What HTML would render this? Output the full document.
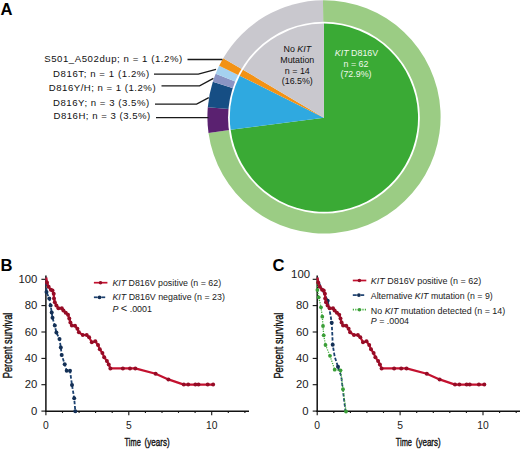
<!DOCTYPE html>
<html><head><meta charset="utf-8"><style>
html,body{margin:0;padding:0;background:#fff;}
svg{display:block;}
text{font-family:"Liberation Sans",sans-serif;}
.lbl{font-size:9.6px;fill:#111;}
.pl{font-size:8.9px;}
.tick{font-size:10.3px;fill:#1a1a1a;}
.leg{font-size:8.9px;fill:#1a1a1a;}
.panel{font-size:16.6px;font-weight:bold;fill:#000;}
.ax{font-size:11.6px;fill:#111;stroke:#111;stroke-width:0.4px;}
</style></head><body>
<svg width="520" height="450" viewBox="0 0 520 450">
<rect width="520" height="450" fill="#fff"/>
<text x="0.4" y="15.0" class="panel">A</text>
<path d="M324.0,116.9 L322.98,0.30 A116.6,116.6 0 1 1 208.51,132.95 Z" fill="#9bcc84"/><path d="M324.0,116.9 L208.51,132.95 A116.6,116.6 0 0 1 207.81,107.16 Z" fill="#5a2170"/><path d="M324.0,116.9 L207.81,107.16 A116.6,116.6 0 0 1 212.80,81.84 Z" fill="#164e84"/><path d="M324.0,116.9 L212.80,81.84 A116.6,116.6 0 0 1 215.69,73.72 Z" fill="#8a94c4"/><path d="M324.0,116.9 L215.69,73.72 A116.6,116.6 0 0 1 219.17,65.84 Z" fill="#a5d2f0"/><path d="M324.0,116.9 L219.17,65.84 A116.6,116.6 0 0 1 223.23,58.24 Z" fill="#f39214"/><path d="M324.0,116.9 L223.23,58.24 A116.6,116.6 0 0 1 322.98,0.30 Z" fill="#c9c8ce"/><circle cx="323.95" cy="117.7" r="95.9" fill="#fff"/><path d="M323.95,117.7 L323.95,23.60 A94.1,94.1 0 1 1 230.64,129.84 Z" fill="#3aaa35"/><path d="M323.95,117.7 L230.64,129.84 A94.1,94.1 0 0 1 239.72,75.76 Z" fill="#2fa9e0"/><path d="M323.95,117.7 L239.72,75.76 A94.1,94.1 0 0 1 243.04,69.65 Z" fill="#f39214"/><path d="M323.95,117.7 L243.04,69.65 A94.1,94.1 0 0 1 323.95,23.60 Z" fill="#c9c8ce"/>
<g fill="#e9f5e4" class="pl" text-anchor="middle">
<text x="356.5" y="56.2" class="pl" fill="#f0f8ec"><tspan font-style="italic">KIT</tspan> D816V</text>
<text x="356" y="66.7" class="pl" fill="#f0f8ec">n = 62</text>
<text x="356" y="77.3" class="pl" fill="#f0f8ec">(72.9%)</text>
</g>
<g text-anchor="middle">
<text x="297.3" y="52.1" class="pl" fill="#111">No <tspan font-style="italic">KIT</tspan></text>
<text x="297.3" y="63.0" class="pl" fill="#111">Mutation</text>
<text x="297.3" y="73.5" class="pl" fill="#111">n = 14</text>
<text x="297.3" y="84.1" class="pl" fill="#111">(16.5%)</text>
</g>
<text x="44.2" y="62" class="lbl" textLength="138" lengthAdjust="spacing">S501_A502dup; n = 1 (1.2%)</text>
<text x="53.1" y="76.6" class="lbl" textLength="96" lengthAdjust="spacing">D816T; n = 1 (1.2%)</text>
<text x="48.8" y="90.8" class="lbl" textLength="106.8" lengthAdjust="spacing">D816Y/H; n = 1 (1.2%)</text>
<text x="53" y="106.3" class="lbl" textLength="96.2" lengthAdjust="spacing">D816Y; n = 3 (3.5%)</text>
<text x="53.5" y="119.3" class="lbl" textLength="96.7" lengthAdjust="spacing">D816H; n = 3 (3.5%)</text>
<g stroke="#1a1a1a" stroke-width="1.3" fill="none">
<polyline points="187.5,59.5 222.5,59.5"/>
<polyline points="154,74.2 198.3,74.2 216,69.4"/>
<polyline points="161.5,85.9 199.6,85.9 213.4,78.4"/>
<polyline points="155,104.1 196.6,104.1 208.8,97.6"/>
<polyline points="156,117.6 208.5,117.6"/>
</g>

<text x="0.5" y="270.8" class="panel">B</text>
<text x="272.6" y="270.6" class="panel">C</text>

<line x1="45.9" y1="275.5" x2="45.9" y2="412.0" stroke="#111" stroke-width="1.5"/><line x1="45.199999999999996" y1="411.3" x2="249" y2="411.3" stroke="#111" stroke-width="1.4"/><line x1="41.4" y1="411.1" x2="45.9" y2="411.1" stroke="#111" stroke-width="1.1"/><text x="31.0" y="414.8" class="tick" textLength="6.3" lengthAdjust="spacingAndGlyphs">0</text><line x1="41.4" y1="384.7" x2="45.9" y2="384.7" stroke="#111" stroke-width="1.1"/><text x="24.7" y="388.4" class="tick" textLength="12.6" lengthAdjust="spacingAndGlyphs">20</text><line x1="41.4" y1="358.4" x2="45.9" y2="358.4" stroke="#111" stroke-width="1.1"/><text x="24.7" y="362.1" class="tick" textLength="12.6" lengthAdjust="spacingAndGlyphs">40</text><line x1="41.4" y1="332.0" x2="45.9" y2="332.0" stroke="#111" stroke-width="1.1"/><text x="24.7" y="335.7" class="tick" textLength="12.6" lengthAdjust="spacingAndGlyphs">60</text><line x1="41.4" y1="305.6" x2="45.9" y2="305.6" stroke="#111" stroke-width="1.1"/><text x="24.7" y="309.3" class="tick" textLength="12.6" lengthAdjust="spacingAndGlyphs">80</text><line x1="41.4" y1="279.3" x2="45.9" y2="279.3" stroke="#111" stroke-width="1.1"/><text x="18.4" y="283.0" class="tick" textLength="18.9" lengthAdjust="spacingAndGlyphs">100</text><line x1="45.9" y1="411.3" x2="45.9" y2="415.3" stroke="#111" stroke-width="1.1"/><text x="45.9" y="428.8" text-anchor="middle" class="tick">0</text><line x1="62.5" y1="411.3" x2="62.5" y2="412.90000000000003" stroke="#111" stroke-width="1.1"/><line x1="79.1" y1="411.3" x2="79.1" y2="412.90000000000003" stroke="#111" stroke-width="1.1"/><line x1="95.6" y1="411.3" x2="95.6" y2="412.90000000000003" stroke="#111" stroke-width="1.1"/><line x1="112.2" y1="411.3" x2="112.2" y2="412.90000000000003" stroke="#111" stroke-width="1.1"/><line x1="128.8" y1="411.3" x2="128.8" y2="415.3" stroke="#111" stroke-width="1.1"/><text x="128.8" y="428.8" text-anchor="middle" class="tick">5</text><line x1="145.4" y1="411.3" x2="145.4" y2="412.90000000000003" stroke="#111" stroke-width="1.1"/><line x1="162.0" y1="411.3" x2="162.0" y2="412.90000000000003" stroke="#111" stroke-width="1.1"/><line x1="178.5" y1="411.3" x2="178.5" y2="412.90000000000003" stroke="#111" stroke-width="1.1"/><line x1="195.1" y1="411.3" x2="195.1" y2="412.90000000000003" stroke="#111" stroke-width="1.1"/><line x1="211.7" y1="411.3" x2="211.7" y2="415.3" stroke="#111" stroke-width="1.1"/><text x="211.7" y="428.8" text-anchor="middle" class="tick">10</text><line x1="228.3" y1="411.3" x2="228.3" y2="412.90000000000003" stroke="#111" stroke-width="1.1"/><line x1="244.9" y1="411.3" x2="244.9" y2="412.90000000000003" stroke="#111" stroke-width="1.1"/>
<line x1="317.2" y1="275.5" x2="317.2" y2="412.0" stroke="#111" stroke-width="1.5"/><line x1="316.5" y1="411.3" x2="520" y2="411.3" stroke="#111" stroke-width="1.4"/><line x1="312.7" y1="411.1" x2="317.2" y2="411.1" stroke="#111" stroke-width="1.1"/><text x="302.3" y="414.8" class="tick" textLength="6.3" lengthAdjust="spacingAndGlyphs">0</text><line x1="312.7" y1="384.7" x2="317.2" y2="384.7" stroke="#111" stroke-width="1.1"/><text x="296.0" y="388.4" class="tick" textLength="12.6" lengthAdjust="spacingAndGlyphs">20</text><line x1="312.7" y1="358.4" x2="317.2" y2="358.4" stroke="#111" stroke-width="1.1"/><text x="296.0" y="362.1" class="tick" textLength="12.6" lengthAdjust="spacingAndGlyphs">40</text><line x1="312.7" y1="332.0" x2="317.2" y2="332.0" stroke="#111" stroke-width="1.1"/><text x="296.0" y="335.7" class="tick" textLength="12.6" lengthAdjust="spacingAndGlyphs">60</text><line x1="312.7" y1="305.6" x2="317.2" y2="305.6" stroke="#111" stroke-width="1.1"/><text x="296.0" y="309.3" class="tick" textLength="12.6" lengthAdjust="spacingAndGlyphs">80</text><line x1="312.7" y1="279.3" x2="317.2" y2="279.3" stroke="#111" stroke-width="1.1"/><text x="291.1" y="278.2" class="tick" textLength="18.9" lengthAdjust="spacingAndGlyphs">100</text><line x1="317.2" y1="411.3" x2="317.2" y2="415.3" stroke="#111" stroke-width="1.1"/><text x="317.2" y="428.8" text-anchor="middle" class="tick">0</text><line x1="333.8" y1="411.3" x2="333.8" y2="412.90000000000003" stroke="#111" stroke-width="1.1"/><line x1="350.4" y1="411.3" x2="350.4" y2="412.90000000000003" stroke="#111" stroke-width="1.1"/><line x1="366.9" y1="411.3" x2="366.9" y2="412.90000000000003" stroke="#111" stroke-width="1.1"/><line x1="383.5" y1="411.3" x2="383.5" y2="412.90000000000003" stroke="#111" stroke-width="1.1"/><line x1="400.1" y1="411.3" x2="400.1" y2="415.3" stroke="#111" stroke-width="1.1"/><text x="400.1" y="428.8" text-anchor="middle" class="tick">5</text><line x1="416.7" y1="411.3" x2="416.7" y2="412.90000000000003" stroke="#111" stroke-width="1.1"/><line x1="433.3" y1="411.3" x2="433.3" y2="412.90000000000003" stroke="#111" stroke-width="1.1"/><line x1="449.8" y1="411.3" x2="449.8" y2="412.90000000000003" stroke="#111" stroke-width="1.1"/><line x1="466.4" y1="411.3" x2="466.4" y2="412.90000000000003" stroke="#111" stroke-width="1.1"/><line x1="483.0" y1="411.3" x2="483.0" y2="415.3" stroke="#111" stroke-width="1.1"/><text x="483.0" y="428.8" text-anchor="middle" class="tick">10</text><line x1="499.6" y1="411.3" x2="499.6" y2="412.90000000000003" stroke="#111" stroke-width="1.1"/><line x1="516.2" y1="411.3" x2="516.2" y2="412.90000000000003" stroke="#111" stroke-width="1.1"/>

<text transform="translate(12.3,378.2) rotate(-90)" class="ax" style="font-size:13.4px" textLength="65.5" lengthAdjust="spacingAndGlyphs">Percent survival</text>
<text transform="translate(283.3,378.6) rotate(-90)" class="ax" style="font-size:13.4px" textLength="66" lengthAdjust="spacingAndGlyphs">Percent survival</text>
<text x="124.6" y="446.3" class="ax" textLength="16.2" lengthAdjust="spacingAndGlyphs">Time</text><text x="144.6" y="446.3" class="ax" textLength="25.1" lengthAdjust="spacingAndGlyphs">(years)</text>
<text x="395.8" y="446.3" class="ax" textLength="16.2" lengthAdjust="spacingAndGlyphs">Time</text><text x="415.8" y="446.3" class="ax" textLength="24.9" lengthAdjust="spacingAndGlyphs">(years)</text>

<polyline points="46.2,277.5 46.5,292.1 49.3,298.4 50.6,305.4 51.7,312.4 52.5,317.8 54.8,325.6 56.4,332.6 59.5,338.9 60.8,347.5 61.7,355.0 64.7,364.2 66.7,370.8 70.0,370.8 72.0,385.0 74.2,398.3 75.3,411.3" fill="none" stroke="#1b4170" stroke-width="1.8" stroke-linejoin="round" stroke-dasharray="3.4,1.8"/>
<circle cx="46.5" cy="292.1" r="2.0" fill="#132f55"/><circle cx="49.3" cy="298.4" r="2.0" fill="#132f55"/><circle cx="50.6" cy="305.4" r="2.0" fill="#132f55"/><circle cx="51.7" cy="312.4" r="2.0" fill="#132f55"/><circle cx="52.5" cy="317.8" r="2.0" fill="#132f55"/><circle cx="54.8" cy="325.6" r="2.0" fill="#132f55"/><circle cx="56.4" cy="332.6" r="2.0" fill="#132f55"/><circle cx="59.5" cy="338.9" r="2.0" fill="#132f55"/><circle cx="60.8" cy="347.5" r="2.0" fill="#132f55"/><circle cx="61.7" cy="355.0" r="2.0" fill="#132f55"/><circle cx="64.7" cy="364.2" r="2.0" fill="#132f55"/><circle cx="66.7" cy="370.8" r="2.0" fill="#132f55"/><circle cx="70.0" cy="370.8" r="2.0" fill="#132f55"/><circle cx="72.0" cy="385.0" r="2.0" fill="#132f55"/><circle cx="74.2" cy="398.3" r="2.0" fill="#132f55"/><circle cx="75.3" cy="411.3" r="2.0" fill="#132f55"/>
<polyline points="46.2,277.5 47.0,282.5 48.6,286.7 50.9,289.8 52.5,290.6 53.7,293.7 54.0,298.4 54.8,302.3 56.4,305.4 58.4,308.3 61.8,308.3 63.4,310.5 65.7,312.7 68.0,314.7 69.3,318.6 70.4,322.5 71.9,325.5 75.0,325.8 77.4,328.7 78.9,332.3 82.8,335.0 86.7,335.0 89.1,337.3 91.8,342.2 95.3,341.3 98.0,344.9 99.8,349.3 102.4,352.9 104.2,357.3 106.9,360.9 108.7,364.4 110.4,368.4 122.9,368.4 130.0,368.4 135.3,368.4 155.6,373.8 168.4,379.4 183.8,384.6 188.2,384.6 195.4,384.6 198.5,384.6 207.7,384.6 213.1,384.6" fill="none" stroke="#c3112f" stroke-width="2.2" stroke-linejoin="round"/>
<circle cx="47.0" cy="282.5" r="2.0" fill="#960c26"/><circle cx="48.6" cy="286.7" r="2.0" fill="#960c26"/><circle cx="50.9" cy="289.8" r="2.0" fill="#960c26"/><circle cx="52.5" cy="290.6" r="2.0" fill="#960c26"/><circle cx="53.7" cy="293.7" r="2.0" fill="#960c26"/><circle cx="54.0" cy="298.4" r="2.0" fill="#960c26"/><circle cx="54.8" cy="302.3" r="2.0" fill="#960c26"/><circle cx="56.4" cy="305.4" r="2.0" fill="#960c26"/><circle cx="58.4" cy="308.3" r="2.0" fill="#960c26"/><circle cx="61.8" cy="308.3" r="2.0" fill="#960c26"/><circle cx="63.4" cy="310.5" r="2.0" fill="#960c26"/><circle cx="65.7" cy="312.7" r="2.0" fill="#960c26"/><circle cx="68.0" cy="314.7" r="2.0" fill="#960c26"/><circle cx="69.3" cy="318.6" r="2.0" fill="#960c26"/><circle cx="70.4" cy="322.5" r="2.0" fill="#960c26"/><circle cx="71.9" cy="325.5" r="2.0" fill="#960c26"/><circle cx="75.0" cy="325.8" r="2.0" fill="#960c26"/><circle cx="77.4" cy="328.7" r="2.0" fill="#960c26"/><circle cx="78.9" cy="332.3" r="2.0" fill="#960c26"/><circle cx="82.8" cy="335.0" r="2.0" fill="#960c26"/><circle cx="86.7" cy="335.0" r="2.0" fill="#960c26"/><circle cx="89.1" cy="337.3" r="2.0" fill="#960c26"/><circle cx="91.8" cy="342.2" r="2.0" fill="#960c26"/><circle cx="95.3" cy="341.3" r="2.0" fill="#960c26"/><circle cx="98.0" cy="344.9" r="2.0" fill="#960c26"/><circle cx="99.8" cy="349.3" r="2.0" fill="#960c26"/><circle cx="102.4" cy="352.9" r="2.0" fill="#960c26"/><circle cx="104.2" cy="357.3" r="2.0" fill="#960c26"/><circle cx="106.9" cy="360.9" r="2.0" fill="#960c26"/><circle cx="108.7" cy="364.4" r="2.0" fill="#960c26"/><circle cx="110.4" cy="368.4" r="2.0" fill="#960c26"/><circle cx="122.9" cy="368.4" r="2.0" fill="#960c26"/><circle cx="130.0" cy="368.4" r="2.0" fill="#960c26"/><circle cx="135.3" cy="368.4" r="2.0" fill="#960c26"/><circle cx="155.6" cy="373.8" r="2.0" fill="#960c26"/><circle cx="168.4" cy="379.4" r="2.0" fill="#960c26"/><circle cx="183.8" cy="384.6" r="2.0" fill="#960c26"/><circle cx="188.2" cy="384.6" r="2.0" fill="#960c26"/><circle cx="195.4" cy="384.6" r="2.0" fill="#960c26"/><circle cx="198.5" cy="384.6" r="2.0" fill="#960c26"/><circle cx="207.7" cy="384.6" r="2.0" fill="#960c26"/><circle cx="213.1" cy="384.6" r="2.0" fill="#960c26"/>

<polyline points="317.2,277.5 320.0,285.0 323.0,291.5 325.5,296.0 327.7,300.7 330.3,314.0 331.7,322.7 332.3,334.0 332.7,344.7 334.7,356.7 338.0,366.7 338.8,369.2 341.3,376.7 345.5,411.5" fill="none" stroke="#1b4170" stroke-width="1.8" stroke-linejoin="round" stroke-dasharray="3.4,1.8"/>
<circle cx="327.7" cy="300.7" r="2.0" fill="#132f55"/><circle cx="331.7" cy="322.7" r="2.0" fill="#132f55"/><circle cx="332.7" cy="344.7" r="2.0" fill="#132f55"/><circle cx="338.0" cy="366.7" r="2.0" fill="#132f55"/>
<polyline points="317.2,278.5 317.4,290.0 318.7,297.3 321.0,307.3 322.3,316.7 323.0,326.0 323.7,335.3 325.5,345.0 330.0,355.8 334.7,369.7 340.5,370.3 343.0,389.2 346.0,411.5" fill="none" stroke="#42ad3c" stroke-width="1.3" stroke-linejoin="round" stroke-dasharray="1.2,1.2"/>
<circle cx="317.4" cy="290.0" r="1.9" fill="#3a9e37"/><circle cx="318.7" cy="297.3" r="1.9" fill="#3a9e37"/><circle cx="321.0" cy="307.3" r="1.9" fill="#3a9e37"/><circle cx="322.3" cy="316.7" r="1.9" fill="#3a9e37"/><circle cx="323.0" cy="326.0" r="1.9" fill="#3a9e37"/><circle cx="323.7" cy="335.3" r="1.9" fill="#3a9e37"/><circle cx="325.5" cy="345.0" r="1.9" fill="#3a9e37"/><circle cx="330.0" cy="355.8" r="1.9" fill="#3a9e37"/><circle cx="334.7" cy="369.7" r="1.9" fill="#3a9e37"/><circle cx="340.5" cy="370.3" r="1.9" fill="#3a9e37"/><circle cx="343.0" cy="389.2" r="1.9" fill="#3a9e37"/><circle cx="346.0" cy="411.5" r="1.9" fill="#3a9e37"/>
<polyline points="317.4,277.5 318.2,282.5 319.8,286.7 322.1,289.8 323.7,290.6 324.9,293.7 325.2,298.4 326.0,302.3 327.6,305.4 329.6,308.3 333.0,308.3 334.6,310.5 336.9,312.7 339.2,314.7 340.5,318.6 341.6,322.5 343.1,325.5 346.2,325.8 348.6,328.7 350.1,332.3 354.0,335.0 357.9,335.0 360.3,337.3 363.0,342.2 366.5,341.3 369.2,344.9 371.0,349.3 373.6,352.9 375.4,357.3 378.1,360.9 379.9,364.4 381.6,368.4 394.1,368.4 401.2,368.4 406.5,368.4 426.8,373.8 439.6,379.4 455.0,384.6 459.4,384.6 466.6,384.6 469.7,384.6 478.9,384.6 484.3,384.6" fill="none" stroke="#c3112f" stroke-width="2.2" stroke-linejoin="round"/>
<circle cx="318.2" cy="282.5" r="2.0" fill="#960c26"/><circle cx="319.8" cy="286.7" r="2.0" fill="#960c26"/><circle cx="322.1" cy="289.8" r="2.0" fill="#960c26"/><circle cx="323.7" cy="290.6" r="2.0" fill="#960c26"/><circle cx="324.9" cy="293.7" r="2.0" fill="#960c26"/><circle cx="325.2" cy="298.4" r="2.0" fill="#960c26"/><circle cx="326.0" cy="302.3" r="2.0" fill="#960c26"/><circle cx="327.6" cy="305.4" r="2.0" fill="#960c26"/><circle cx="329.6" cy="308.3" r="2.0" fill="#960c26"/><circle cx="333.0" cy="308.3" r="2.0" fill="#960c26"/><circle cx="334.6" cy="310.5" r="2.0" fill="#960c26"/><circle cx="336.9" cy="312.7" r="2.0" fill="#960c26"/><circle cx="339.2" cy="314.7" r="2.0" fill="#960c26"/><circle cx="340.5" cy="318.6" r="2.0" fill="#960c26"/><circle cx="341.6" cy="322.5" r="2.0" fill="#960c26"/><circle cx="343.1" cy="325.5" r="2.0" fill="#960c26"/><circle cx="346.2" cy="325.8" r="2.0" fill="#960c26"/><circle cx="348.6" cy="328.7" r="2.0" fill="#960c26"/><circle cx="350.1" cy="332.3" r="2.0" fill="#960c26"/><circle cx="354.0" cy="335.0" r="2.0" fill="#960c26"/><circle cx="357.9" cy="335.0" r="2.0" fill="#960c26"/><circle cx="360.3" cy="337.3" r="2.0" fill="#960c26"/><circle cx="363.0" cy="342.2" r="2.0" fill="#960c26"/><circle cx="366.5" cy="341.3" r="2.0" fill="#960c26"/><circle cx="369.2" cy="344.9" r="2.0" fill="#960c26"/><circle cx="371.0" cy="349.3" r="2.0" fill="#960c26"/><circle cx="373.6" cy="352.9" r="2.0" fill="#960c26"/><circle cx="375.4" cy="357.3" r="2.0" fill="#960c26"/><circle cx="378.1" cy="360.9" r="2.0" fill="#960c26"/><circle cx="379.9" cy="364.4" r="2.0" fill="#960c26"/><circle cx="381.6" cy="368.4" r="2.0" fill="#960c26"/><circle cx="394.1" cy="368.4" r="2.0" fill="#960c26"/><circle cx="401.2" cy="368.4" r="2.0" fill="#960c26"/><circle cx="406.5" cy="368.4" r="2.0" fill="#960c26"/><circle cx="426.8" cy="373.8" r="2.0" fill="#960c26"/><circle cx="439.6" cy="379.4" r="2.0" fill="#960c26"/><circle cx="455.0" cy="384.6" r="2.0" fill="#960c26"/><circle cx="459.4" cy="384.6" r="2.0" fill="#960c26"/><circle cx="466.6" cy="384.6" r="2.0" fill="#960c26"/><circle cx="469.7" cy="384.6" r="2.0" fill="#960c26"/><circle cx="478.9" cy="384.6" r="2.0" fill="#960c26"/><circle cx="484.3" cy="384.6" r="2.0" fill="#960c26"/>

<line x1="93.9" y1="282.7" x2="107.4" y2="282.7" stroke="#c3112f" stroke-width="1.7"/><circle cx="100.5" cy="282.7" r="1.8" fill="#960c26"/>
<line x1='93.9' y1='297.3' x2='97.6' y2='297.3' stroke='#1b4170' stroke-width='1.7'/><line x1='101.4' y1='297.3' x2='105.2' y2='297.3' stroke='#1b4170' stroke-width='1.7'/><circle cx='99.5' cy='297.3' r='1.9' fill='#132f55'/>
<text x="112.4" y="285.8" class="leg" textLength="108.7" lengthAdjust="spacingAndGlyphs"><tspan font-style="italic">KIT</tspan> D816V positive (n = 62)</text>
<text x="112.4" y="300.4" class="leg" textLength="112.5" lengthAdjust="spacingAndGlyphs"><tspan font-style="italic">KIT</tspan> D816V negative (n = 23)</text>
<text x="112.4" y="311.9" class="leg"><tspan font-style="italic">P</tspan> <tspan font-size="11">&lt;</tspan> .0001</text>

<line x1="352.8" y1="280.5" x2="366.3" y2="280.5" stroke="#c3112f" stroke-width="1.7"/><circle cx="359.40000000000003" cy="280.5" r="1.8" fill="#960c26"/>
<line x1='352.8' y1='295.1' x2='356.8' y2='295.1' stroke='#1b4170' stroke-width='1.7'/><line x1='360.8' y1='295.1' x2='364.2' y2='295.1' stroke='#1b4170' stroke-width='1.7'/><circle cx='358.9' cy='295.1' r='1.9' fill='#132f55'/>
<line x1="352.8" y1="309.7" x2="366.3" y2="309.7" stroke="#42ad3c" stroke-width="1.7" stroke-dasharray="1.2,1.2"/><circle cx="359.40000000000003" cy="309.7" r="1.8" fill="#3a9e37"/>
<text x="370.8" y="283.5" class="leg" textLength="110.4" lengthAdjust="spacingAndGlyphs"><tspan font-style="italic">KIT</tspan> D816V positive (n = 62)</text>
<text x="370.8" y="298.5" class="leg" textLength="121.9" lengthAdjust="spacingAndGlyphs">Alternative <tspan font-style="italic">KIT</tspan> mutation (n = 9)</text>
<text x="370.8" y="313.5" class="leg" textLength="134.4" lengthAdjust="spacingAndGlyphs">No <tspan font-style="italic">KIT</tspan> mutation detected (n = 14)</text>
<text x="370.8" y="324" class="leg"><tspan font-style="italic">P</tspan> = .0004</text>
</svg>
</body></html>
